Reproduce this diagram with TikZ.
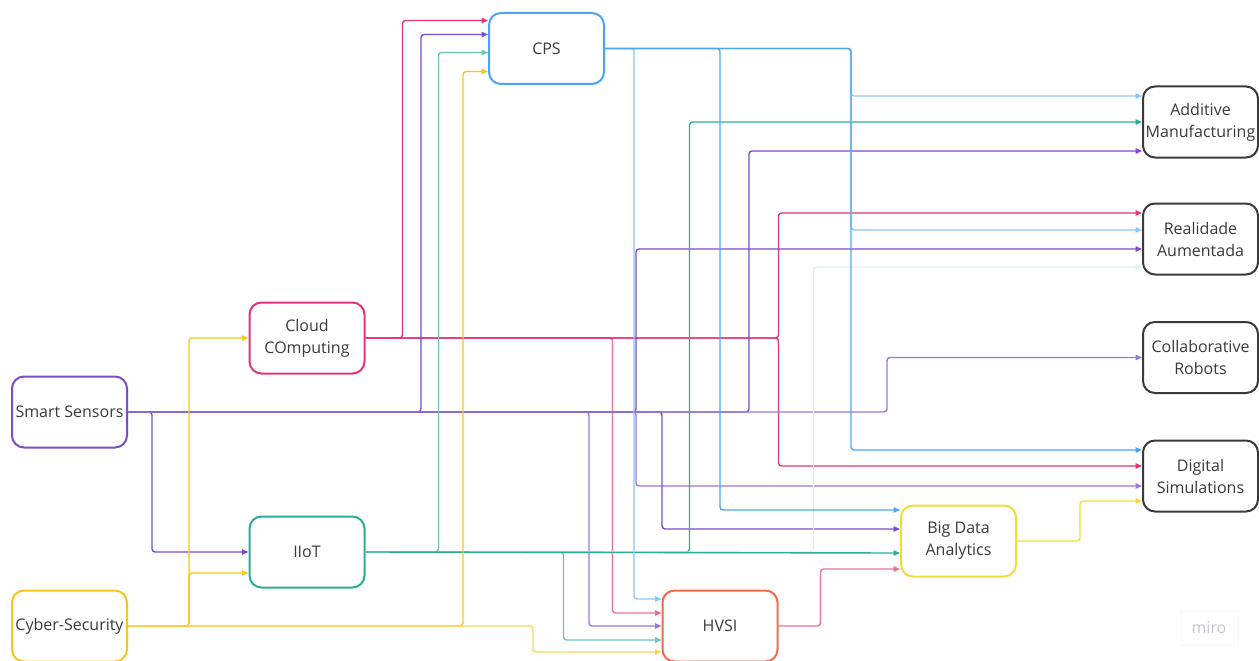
\documentclass[tikz,border=0pt]{standalone}
\usepackage{fontspec}
\setmainfont{Open Sans}
\usetikzlibrary{arrows.meta}
\definecolor{txt}{HTML}{3A3A3A}
\definecolor{bgray}{HTML}{3A3A3A}
\definecolor{cblue}{HTML}{4AA6F2}
\definecolor{lblue}{HTML}{8CC6F8}
\definecolor{cpink}{HTML}{E3347A}
\definecolor{lpink}{HTML}{EC6E9A}
\definecolor{cpurp}{HTML}{7B4CCB}
\definecolor{lpurp}{HTML}{9A78D8}
\definecolor{cteal}{HTML}{2AAE96}
\definecolor{lteal}{HTML}{6CC6B4}
\definecolor{pteal}{HTML}{DDF0EC}
\definecolor{cyel}{HTML}{F8C51E}
\definecolor{lyel}{HTML}{FAD55A}
\definecolor{lemon}{HTML}{EEDD3A}
\definecolor{corange}{HTML}{F26B4B}
\definecolor{mirotxt}{HTML}{C6C4D6}
\definecolor{miroedge}{HTML}{F7F7F9}
\begin{document}
\begin{tikzpicture}[x=1pt,y=-1pt,
  box/.style={draw, line width=2pt, rounded corners=12pt, minimum width=115pt,
    minimum height=71pt, align=center, inner sep=0pt, fill=white,
    font=\fontsize{16pt}{22pt}\selectfont, text=txt},
  con/.style={line width=1.4pt, rounded corners=3pt,
    -{Triangle[length=6.5pt,width=5.5pt]}},
]
\useasboundingbox (0,0) rectangle (1259,661);
% nodes
\node[box, draw=cblue]   (cps)   at (546.5,48.5) {CPS};
\node[box, draw=cpink]   (cloud) at (307,338)    {Cloud\\COmputing};
\node[box, draw=cpurp]   (ss)    at (69.5,412)   {Smart Sensors};
\node[box, draw=cteal]   (iiot)  at (307,552)    {IIoT};
\node[box, draw=cyel]    (cyber) at (69.5,626)   {Cyber-Security};
\node[box, draw=corange] (hvsi)  at (720,626)    {HVSI};
\node[box, draw=lemon]   (bda)   at (958.5,541)  {Big Data\\Analytics};
\node[box, draw=bgray]   (add)   at (1200.5,122) {Additive\\Manufacturing};
\node[box, draw=bgray]   (real)  at (1200.5,239) {Realidade\\Aumentada};
\node[box, draw=bgray]   (cr)    at (1200.5,357.5) {Collaborative\\Robots};
\node[box, draw=bgray]   (digi)  at (1200.5,476) {Digital\\Simulations};
\node[draw=miroedge, line width=0.5pt, minimum width=58pt, minimum height=34pt,
  font=\fontsize{16pt}{18pt}\selectfont, text=mirotxt] (miro) at (1209,628) {miro};

% Cloud Computing
\draw[con,cpink] (cloud.east) -- ++(37,0) |- ([yshift=28pt]cps.west);
\draw[con,lpink] (cloud.east) -- ++(247,0) |- ([yshift=13pt]hvsi.west);
\draw[con,cpink] (cloud.east) -- ++(413,0) |- ([yshift=26pt]real.west);
\draw[con,cpink] (cloud.east) -- ++(413,0) |- ([yshift=10pt]digi.west);

% Smart Sensors
\draw[con,cpurp] (ss.east) -- ++(24,0) |- (iiot.west);
\draw[con,cpurp] (ss.east) -- ++(293,0) |- ([yshift=14pt]cps.west);
\draw[con,lpurp] (ss.east) -- ++(461,0) |- (hvsi.west);
\draw[con,cpurp] (ss.east) -- ++(508,0) |- ([yshift=-10pt]real.west);
\draw[con,lpurp] (ss.east) -- ++(508,0) |- ([yshift=-10pt]digi.west);
\draw[con,cpurp] (ss.east) -- ++(534,0) |- ([yshift=12pt]bda.west);
\draw[con,cpurp] (ss.east) -- ++(621,0) |- ([yshift=-29pt]add.west);
\draw[con,lpurp] (ss.east) -- ++(759,0) |- (cr.west);

% IIoT
\draw[con,lteal] (iiot.east) -- ++(73,0) |- ([yshift=-4pt]cps.west);
\draw[con,lteal] (iiot.east) -- ++(198,0) |- ([yshift=-14pt]hvsi.west);
\draw[con,cteal] (iiot.east) -- ++(324,0) |- (add.west);
\draw[con,pteal] (iiot.east) -- ++(448,0) |- ([yshift=-28pt]real.west);
\draw[con,cteal] (iiot.east) -- ([yshift=-12pt]bda.west);

% Cyber-Security
\draw[con,cyel] (cyber.east) -- ++(61,0) |- (cloud.west);
\draw[con,cyel] (cyber.east) -- ++(61,0) |- ([yshift=-21pt]iiot.west);
\draw[con,cyel] (cyber.east) -- ++(335,0) |- ([yshift=-23pt]cps.west);
\draw[con,lyel] (cyber.east) -- ++(405,0) |- ([yshift=-26pt]hvsi.west);

% CPS
\draw[con,lblue] (cps.east) -- ++(29,0) |- ([yshift=27pt]hvsi.west);
\draw[con,cblue] (cps.east) -- ++(115,0) |- ([yshift=31pt]bda.west);
\draw[con,lblue] (cps.east) -- ++(246,0) |- ([yshift=26pt]add.west);
\draw[con,lblue] (cps.east) -- ++(246,0) |- ([yshift=9pt]real.west);
\draw[con,cblue] (cps.east) -- ++(246,0) |- ([yshift=26pt]digi.west);

% HVSI
\draw[con,lpink] (hvsi.east) -- ++(42,0) |- ([yshift=-28pt]bda.west);

% Big Data Analytics
\draw[con,lemon] (bda.east) -- ++(63,0) |- ([yshift=-25pt]digi.west);
\end{tikzpicture}
\end{document}
